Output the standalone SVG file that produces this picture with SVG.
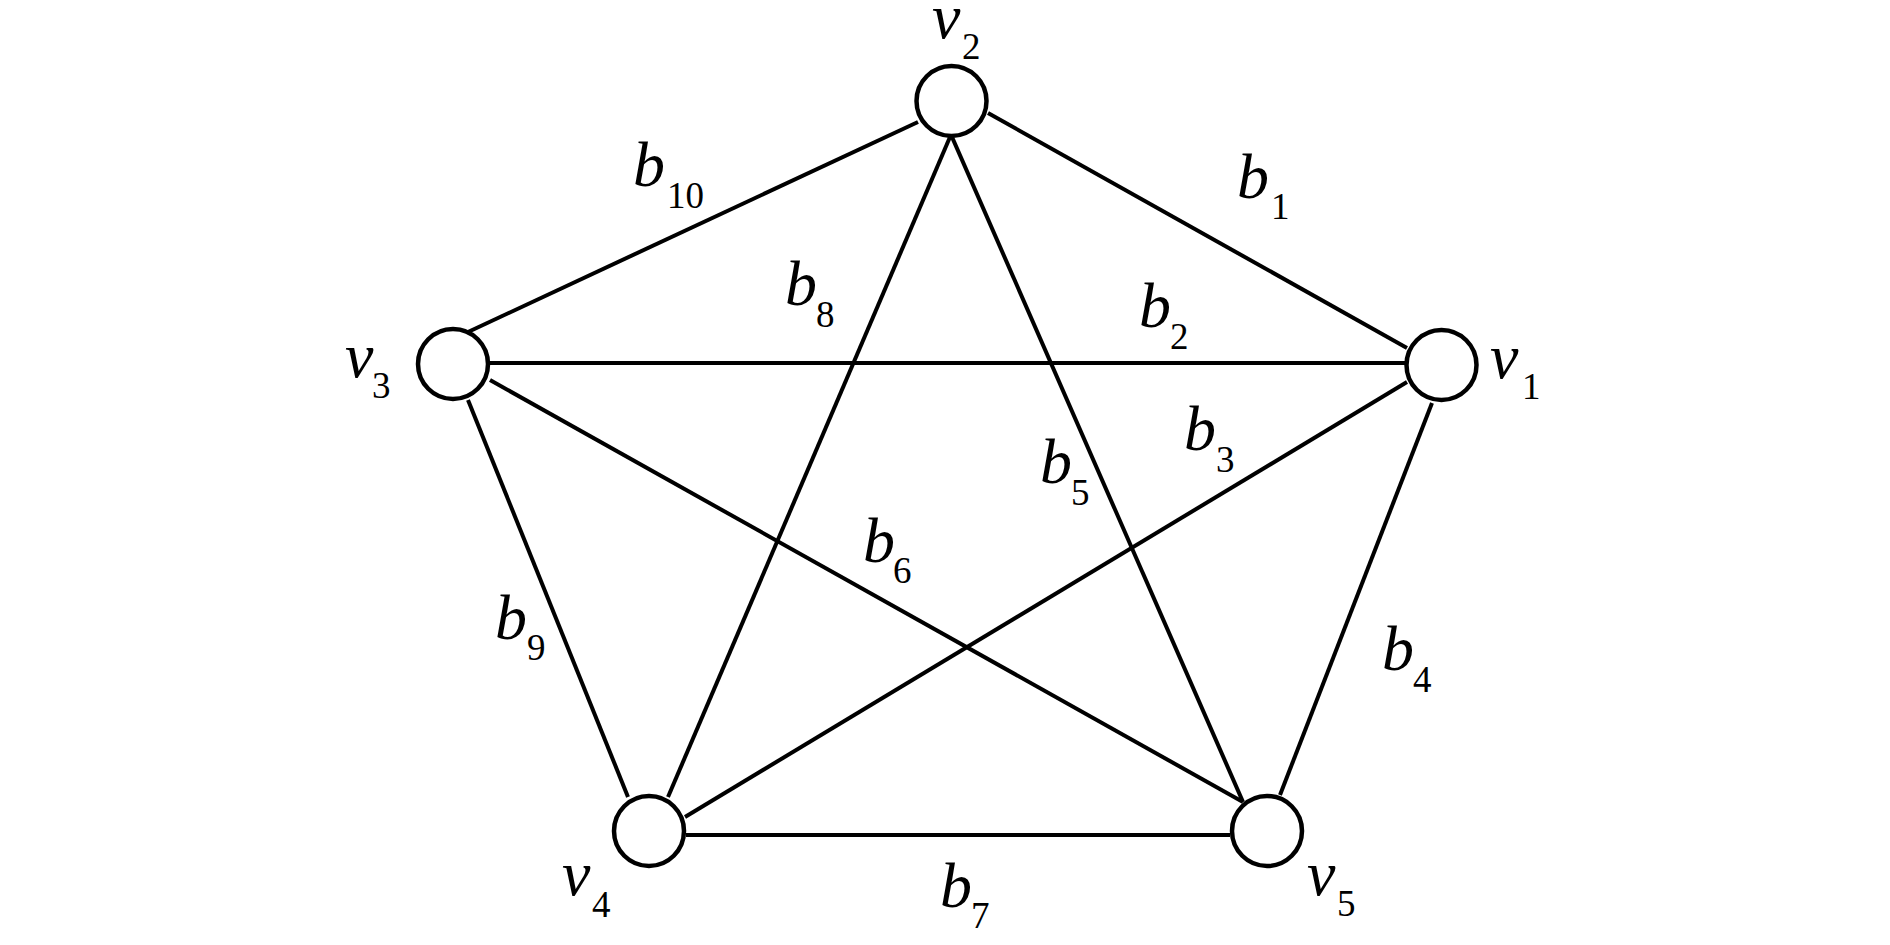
<svg xmlns="http://www.w3.org/2000/svg" width="1890" height="945" viewBox="0 0 1890 945">
<style>
.e{stroke:#000;stroke-width:4;fill:none}
.n{fill:#fff;stroke:#000;stroke-width:4.5}
.m{font-family:"Liberation Serif","Times New Roman",serif;font-style:italic;font-size:64px;fill:#000}
.s{font-family:"Liberation Serif","Times New Roman",serif;font-size:37px;fill:#000}
</style>
<rect width="1890" height="945" fill="#fff"/>
<g id="connectors">
<line class="e" x1="988" y1="113" x2="1407" y2="348"/>
<line class="e" x1="918" y1="122" x2="468" y2="332"/>
<line class="e" x1="490" y1="363" x2="1405" y2="363"/>
<line class="e" x1="950" y1="137" x2="668" y2="797"/>
<line class="e" x1="952" y1="137" x2="1243" y2="802"/>
<line class="e" x1="1432" y1="403" x2="1280" y2="795"/>
<line class="e" x1="468" y1="400" x2="628" y2="797"/>
<line class="e" x1="490" y1="380" x2="1243" y2="802"/>
<line class="e" x1="685" y1="817" x2="1407" y2="382"/>
<line class="e" x1="686" y1="835" x2="1230" y2="835"/>
</g>
<g id="edge-labels">
<text class="m" x="1237" y="198">b</text><text class="s" x="1271" y="219">1</text>
<text class="m" x="1139" y="327">b</text><text class="s" x="1170" y="349">2</text>
<text class="m" x="1184" y="450">b</text><text class="s" x="1216" y="472">3</text>
<text class="m" x="1382" y="670">b</text><text class="s" x="1413" y="692">4</text>
<text class="m" x="1040" y="483">b</text><text class="s" x="1071" y="505">5</text>
<text class="m" x="863" y="562">b</text><text class="s" x="893" y="583">6</text>
<text class="m" x="940" y="907">b</text><text class="s" x="971" y="928">7</text>
<text class="m" x="785" y="305">b</text><text class="s" x="816" y="327">8</text>
<text class="m" x="495" y="639">b</text><text class="s" x="527" y="660">9</text>
<text class="m" x="633" y="186">b</text><text class="s" x="667" y="208">10</text>
</g>
<g id="v1"><circle class="n" cx="1441.5" cy="365" r="35"/><text class="m" x="1490" y="378">v</text><text class="s" x="1522" y="399">1</text></g>
<g id="v2"><circle class="n" cx="951.5" cy="101" r="35"/><text class="m" x="932" y="38">v</text><text class="s" x="962" y="59">2</text></g>
<g id="v3"><circle class="n" cx="453" cy="364" r="35"/><text class="m" x="345" y="377">v</text><text class="s" x="372" y="398">3</text></g>
<g id="v4"><circle class="n" cx="649" cy="831" r="35"/><text class="m" x="562" y="895">v</text><text class="s" x="592" y="917">4</text></g>
<g id="v5"><circle class="n" cx="1267" cy="831" r="35"/><text class="m" x="1307" y="895">v</text><text class="s" x="1337" y="916">5</text></g>
</svg>
